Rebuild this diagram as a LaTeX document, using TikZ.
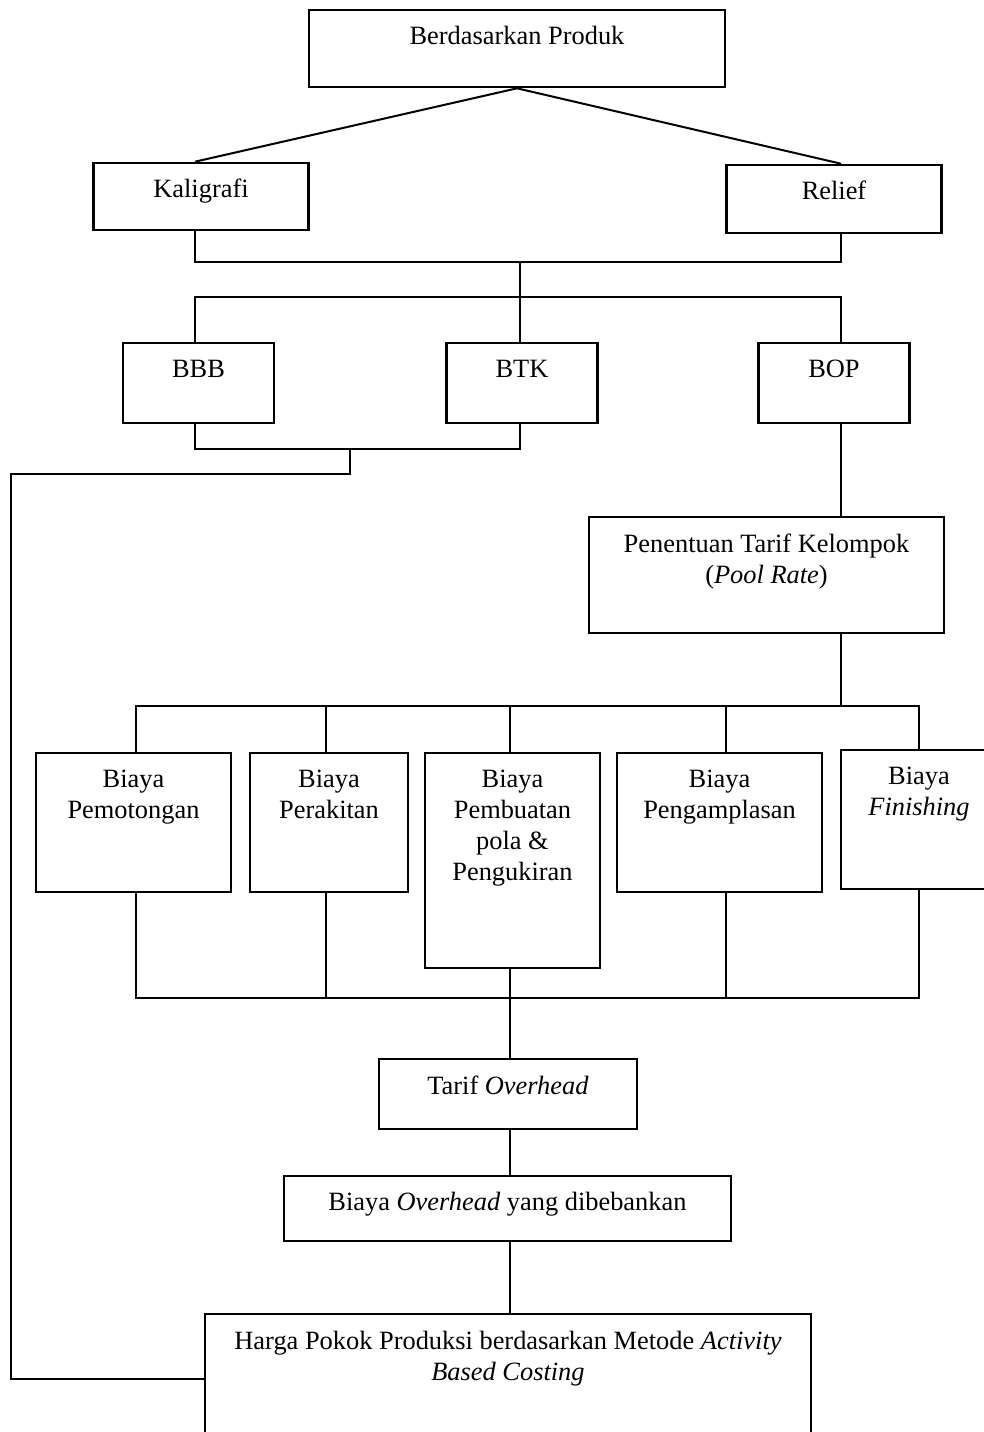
\documentclass[tikz,border=0pt]{standalone}
\usepackage{fontspec}
\setmainfont{Liberation Serif}
\tikzset{
	box/.style={draw, line width=1.3pt, inner sep=0pt},
	lbl/.style={anchor=base, align=center, inner sep=0pt, font=\fontsize{13.2}{15.5}\selectfont},
	conn/.style={line width=1pt}
}
\begin{document}
\begin{tikzpicture}[x=0.5pt, y=-0.5pt]
	\useasboundingbox (0,0) rectangle (984,1432);
	\clip (0,0) rectangle (984,1432);
	\node[box, minimum width=208pt, minimum height=38.5pt] (produk) at (517,48.5) {};
	\node[box, minimum width=107.75pt, minimum height=33.5pt] (kaligrafi) at (201,196.5) {};
	\node[box, minimum width=107.5pt, minimum height=34pt] (relief) at (834,199) {};
	\node[box, minimum width=75.5pt, minimum height=40pt] (bbb) at (198.5,383) {};
	\node[box, minimum width=75.5pt, minimum height=40pt] (btk) at (522,383) {};
	\node[box, minimum width=75.5pt, minimum height=40pt] (bop) at (834,383) {};
	\node[box, minimum width=177.5pt, minimum height=58pt] (pool) at (766.5,575) {};
	\node[box, minimum width=97.5pt, minimum height=69.5pt] (potong) at (133.5,822.5) {};
	\node[box, minimum width=79pt, minimum height=69.5pt] (rakit) at (329,822.5) {};
	\node[box, minimum width=87.5pt, minimum height=107.5pt] (ukir) at (512.5,860.5) {};
	\node[box, minimum width=102.5pt, minimum height=69.5pt] (amplas) at (719.5,822.5) {};
	\node[box, minimum width=78pt, minimum height=69.5pt] (finish) at (919,819.5) {};
	\node[box, minimum width=129pt, minimum height=35pt] (tarif) at (508,1094) {};
	\node[box, minimum width=223.5pt, minimum height=32.5pt] (beban) at (507.5,1208.5) {};
	\node[box, minimum width=303pt, minimum height=65pt] (hpp) at (508,1379) {};

	% base sits on the last line: shift 15.5pt more for each extra line
	\node[lbl] (produk-t) at ([yshift=-18pt]produk.north) {Berdasarkan Produk};
	\node[lbl] (kaligrafi-t) at ([yshift=-18pt]kaligrafi.north) {Kaligrafi};
	\node[lbl] (relief-t) at ([yshift=-18pt]relief.north) {Relief};
	\node[lbl] (bbb-t) at ([yshift=-18pt]bbb.north) {BBB};
	\node[lbl] (btk-t) at ([yshift=-18pt]btk.north) {BTK};
	\node[lbl] (bop-t) at ([yshift=-18pt]bop.north) {BOP};
	\node[lbl] (pool-t) at ([yshift=-34pt]pool.north) {Penentuan Tarif Kelompok\\(\textit{Pool Rate})};
	\node[lbl] (potong-t) at ([yshift=-33.5pt]potong.north) {Biaya\\Pemotongan};
	\node[lbl] (rakit-t) at ([yshift=-33.5pt]rakit.north) {Biaya\\Perakitan};
	\node[lbl] (ukir-t) at ([yshift=-64.5pt]ukir.north) {Biaya\\Pembuatan\\pola \&\\Pengukiran};
	\node[lbl] (amplas-t) at ([yshift=-33.5pt]amplas.north) {Biaya\\Pengamplasan};
	\node[lbl] (finish-t) at ([yshift=-33.5pt]finish.north) {Biaya\\\textit{Finishing}};
	\node[lbl] (tarif-t) at ([yshift=-18.5pt]tarif.north) {Tarif \textit{Overhead}};
	\node[lbl] (beban-t) at ([yshift=-18pt]beban.north) {Biaya \textit{Overhead} yang dibebankan};
	\node[lbl] (hpp-t) at ([yshift=-34pt]hpp.north) {Harga Pokok Produksi berdasarkan Metode \textit{Activity}\\\textit{Based Costing}};

	\coordinate (kL) at (195,0);
	\coordinate (kM) at (519.5,0);
	\coordinate (kR) at (841,0);
	\coordinate (k1) at (135.5,0);
	\coordinate (k2) at (326,0);
	\coordinate (k3) at (509.5,0);
	\coordinate (k4) at (725.5,0);
	\coordinate (k5) at (919,0);
	\coordinate (bar1) at (519.5,262);
	\coordinate (bar2) at (519.5,296.5);
	\coordinate (bar3) at (350,449);
	\coordinate (kiri) at (11,474);
	\coordinate (bar4) at (841,706);
	\coordinate (bar5) at (509.5,997.5);

	\draw[conn] (produk.south) -- (kaligrafi.north -| kL);
	\draw[conn] (produk.south) -- (relief.north -| kR);
	\draw[conn] (kaligrafi.south -| kL) |- (bar1) -| (relief.south -| kR);
	\draw[conn] (bar1) -- (bar2);
	\draw[conn] (bbb.north -| kL) |- (bar2) -| (bop.north -| kR);
	\draw[conn] (bar2) -- (btk.north -| kM);
	\draw[conn] (bbb.south -| kL) |- (bar3) -| (btk.south -| kM);
	\draw[conn] (bar3) |- (kiri) |- (hpp.west);
	\draw[conn] (bop.south -| kR) -- (pool.north -| kR);
	\draw[conn] (pool.south -| kR) -- (bar4);
	\draw[conn] (potong.north -| k1) |- (bar4) -| (finish.north -| k5);
	\foreach \b/\k in {rakit/k2, ukir/k3, amplas/k4}
		\draw[conn] (\b.north -| \k) -- (\k |- bar4);
	\draw[conn] (potong.south -| k1) |- (bar5) -| (finish.south -| k5);
	\foreach \b/\k in {rakit/k2, amplas/k4}
		\draw[conn] (\b.south -| \k) -- (\k |- bar5);
	\draw[conn] (ukir.south -| k3) -- (tarif.north -| k3);
	\draw[conn] (tarif.south -| k3) -- (beban.north -| k3);
	\draw[conn] (beban.south -| k3) -- (hpp.north -| k3);
\end{tikzpicture}
\end{document}
